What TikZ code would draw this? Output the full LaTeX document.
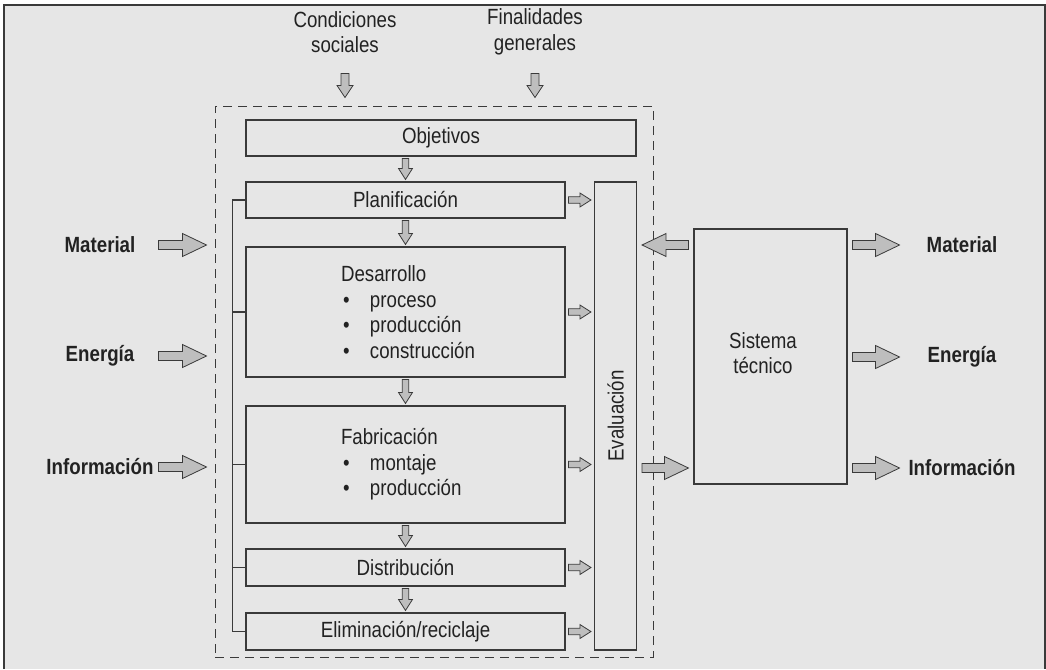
\documentclass[tikz,border=0pt]{standalone}
\usepackage{fontspec}
\setmainfont{Liberation Sans}[FakeStretch=0.85]
\usepackage{tikz}
\usetikzlibrary{calc,positioning}
\definecolor{PanelGray}{HTML}{E6E6E6}
\definecolor{ArrowGray}{HTML}{BEBEBE}
\definecolor{LineGray}{HTML}{3A3A3A}
\definecolor{TextDark}{HTML}{222222}

% flecha gruesa: semiancho del tallo, semiancho de la punta, largo de la punta, desde, hasta
\newcommand{\fatarrow}[5]{%
  \coordinate (fa-a) at #4;
  \coordinate (fa-b) at #5;
  \coordinate (fa-n) at ($(fa-b)!#3!(fa-a)$);
  \draw[blockarrow] ($(fa-a)!#1!90:(fa-b)$) -- ($(fa-n)!#1!90:(fa-b)$) -- ($(fa-n)!#2!90:(fa-b)$)
    -- (fa-b) -- ($(fa-n)!#2!-90:(fa-b)$) -- ($(fa-n)!#1!-90:(fa-b)$) -- ($(fa-a)!#1!-90:(fa-b)$) -- cycle;}
\newcommand{\bigarrow}[2]{\fatarrow{4.5pt}{11.5pt}{24pt}{#1}{#2}}
\newcommand{\midarrow}[2]{\fatarrow{4pt}{8pt}{12pt}{#1}{#2}}
\newcommand{\smallarrow}[2]{\fatarrow{3.2pt}{7pt}{11pt}{#1}{#2}}
\newcommand{\dotitem}{\hspace*{2pt}\makebox[27pt][l]{\textbullet}}

\begin{document}
\begin{tikzpicture}[x=1pt, y=-1pt,
    every node/.style={text=TextDark, font=\fontsize{22}{25.5}\selectfont, align=center},
    box/.style={draw=LineGray, line width=1.1pt, inner sep=0pt},
    dashbox/.style={draw=LineGray, line width=1pt, dash pattern=on 9pt off 6pt, inner sep=0pt},
    lbl/.style={font=\fontsize{22}{25.5}\selectfont\bfseries},
    blockarrow/.style={draw=LineGray, fill=ArrowGray, line width=0.8pt, line join=miter}]
    \useasboundingbox (0,0) rectangle (1046,669);
    % Fondo del recuadro
    \fill[PanelGray] (4,5) rectangle (1046,669);
    \draw[LineGray, line width=1.6pt] (4,669) -- (4,5) -- (1045,5) -- (1045,669);

    % Proceso (recuadro discontinuo) y bloques
    \node[dashbox, minimum width=438, minimum height=551] (proc) at (434,381.5) {};
    \node[box, minimum width=390, minimum height=36] (obj) at (441,138) {Objetivos};
    \node[box, minimum width=319, minimum height=36] (plan) at (405.5,200) {Planificación};
    \node[box, minimum width=319, minimum height=130, text width=129, align=left] (des) at (405.5,312)
        {Desarrollo\\\dotitem proceso\\\dotitem producción\\\dotitem construcción};
    \node[box, minimum width=319, minimum height=117, text width=129, align=left] (fab) at (405.5,464.5)
        {Fabricación\\\dotitem montaje\\\dotitem producción};
    \node[box, minimum width=319, minimum height=37] (dist) at (405.5,567.5) {Distribución};
    \node[box, minimum width=319, minimum height=37] (elim) at (405.5,631.5) {Eliminación/reciclaje};
    \node[box, minimum width=42, minimum height=468] (eval) at (615.5,416) {};
    \node[rotate=90] (evaltxt) at (eval.center) {Evaluación};
    \node[box, minimum width=153, minimum height=255] (sis) at (770.5,356.5) {};
    \node (sistxt) at (763,353) {Sistema\\técnico};

    % Corchete a la izquierda
    \draw[LineGray, line width=1.1pt] (plan.west) -- ++(-13,0) |- (elim.west);
    \draw[LineGray, line width=1.1pt] (des.west) -- ++(-13,0);
    \draw[LineGray, line width=1.1pt] (fab.west) -- ++(-13,0);
    \draw[LineGray, line width=1.1pt] (dist.west) -- ++(-13,0);

    % Textos exteriores
    \node (cond) at (345,32) {Condiciones\\sociales};
    \node (fin) at (535,32) {Finalidades\\generales};
    \node[lbl] (matin) at (100,245) {Material};
    \node[lbl] (enin) at (100,356) {Energía};
    \node[lbl] (infin) at (100,467) {Información};
    \node[lbl] (matout) at (962,245) {Material};
    \node[lbl] (enout) at (962,357) {Energía};
    \node[lbl] (infout) at (962,468) {Información};

    % Flechas superiores
    \midarrow{($(cond.south |- proc.north)+(0,-32)$)}{($(cond.south |- proc.north)+(0,-8)$)}
    \midarrow{($(fin.south |- proc.north)+(0,-32)$)}{($(fin.south |- proc.north)+(0,-8)$)}

    % Flechas entre bloques
    \smallarrow{($(plan.north |- obj.south)+(0,2)$)}{($(plan.north)+(0,-2)$)}
    \smallarrow{($(plan.south)+(0,2)$)}{($(des.north)+(0,-2)$)}
    \smallarrow{($(des.south)+(0,2)$)}{($(fab.north)+(0,-2)$)}
    \smallarrow{($(fab.south)+(0,2)$)}{($(dist.north)+(0,-2)$)}
    \smallarrow{($(dist.south)+(0,2)$)}{($(elim.north)+(0,-2)$)}

    % Flechas hacia la evaluacion
    \foreach \blk in {plan,des,fab,dist,elim}
        \smallarrow{($(\blk.east)+(3,0)$)}{($(\blk.east -| eval.west)+(-3,0)$)};

    % Entradas
    \foreach \src in {matin,enin,infin}
        \bigarrow{($(\src -| proc.west)+(-56,0)$)}{($(\src -| proc.west)+(-8,0)$)};

    % Sistema tecnico
    \bigarrow{($(matin -| sis.west)+(-5,0)$)}{($(matin -| eval.east)+(5,0)$)}
    \bigarrow{($(infout -| eval.east)+(5,0)$)}{($(infout -| sis.west)+(-5,0)$)}

    % Salidas
    \foreach \dst in {matout,enout,infout}
        \bigarrow{($(\dst -| sis.east)+(5,0)$)}{($(\dst -| sis.east)+(52,0)$)};
\end{tikzpicture}
\end{document}
